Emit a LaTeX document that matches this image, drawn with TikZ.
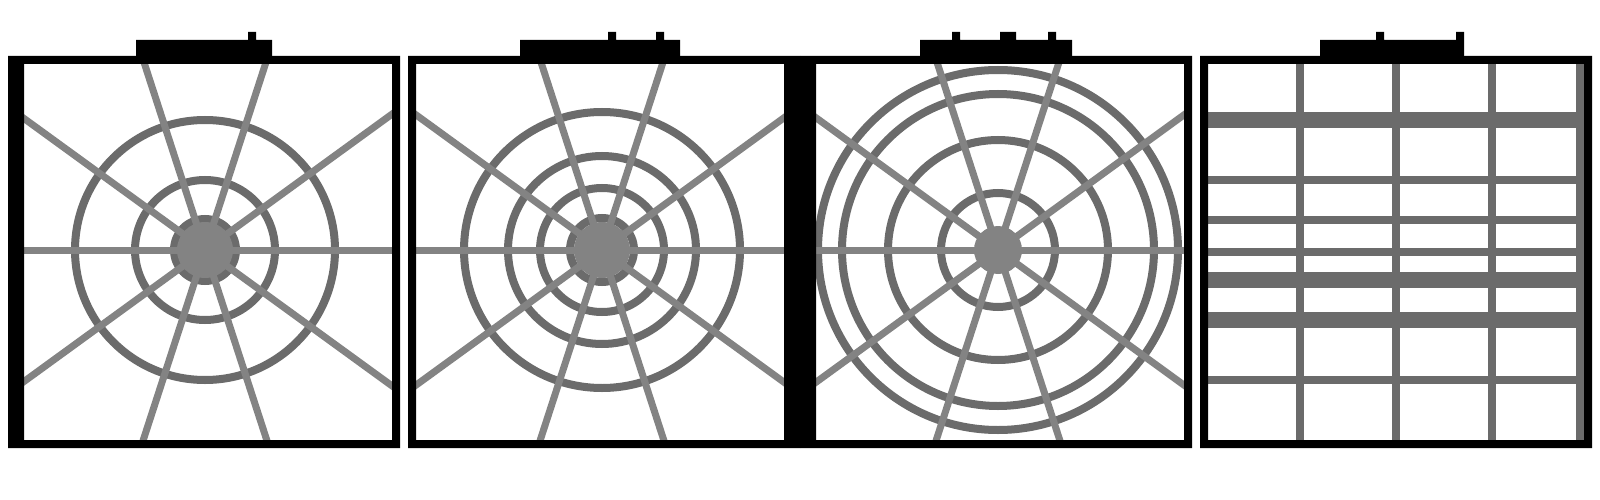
\documentclass[tikz,border=0pt]{standalone}
\definecolor{ringc}{HTML}{6B6B6B}
\definecolor{spokec}{HTML}{838383}
\tikzset{
  ring/.style={draw=ringc,line width=8pt},
  spoke/.style={draw=spokec,line width=7pt},
  blob/.style={fill=spokec},
  frameblk/.style={fill=black,even odd rule},
  titlebar/.style={fill=black},
  gridline/.style={fill=ringc}
}
\newcommand\webpanel[5]{%
  \begin{scope}
    \clip (#2,64) rectangle (#3,440);
    \begin{scope}[shift={(#1,250)}]
      \foreach \r in {#4} {
        \draw[ring] (0,0) circle (\r);
      }
      \foreach \a in {0,36,72,108,144} {
        \draw[spoke] (\a:320) -- (\a+180:320);
      }
      \fill[blob] (0,0) circle (#5);
    \end{scope}
  \end{scope}
}
\begin{document}
\begin{tikzpicture}[x=1pt,y=-1pt]
\useasboundingbox[fill=white] (0,0) rectangle (1600,500);

% panel contents
\webpanel{205}{24}{392}{31,70,130}{28}
\webpanel{602}{416}{784}{32,62,94,138}{28}
\webpanel{998}{816}{1184}{57,110,156,180}{24}

% panel 4 grid
\begin{scope}
  \foreach \ya/\yb in {112/128,176/184,216/224,248/256,272/288,312/328,376/384}
    {\fill[gridline] (1208,\ya) rectangle (1584,\yb);}
  \foreach \xa in {1296,1392,1488,1576}
    {\fill[gridline] (\xa,64) rectangle (\xa+8,440);}
\end{scope}

% frames
\fill[frameblk] (8,56) rectangle (400,448) (24,64) rectangle (392,440);
\fill[frameblk] (408,56) rectangle (800,448) (416,64) rectangle (784,440);
\fill[frameblk] (800,56) rectangle (1192,448) (816,64) rectangle (1184,440);
\fill[frameblk] (1200,56) rectangle (1592,448) (1208,64) rectangle (1584,440);

% title bars
\fill[titlebar] (136,40) rectangle (272,56) (248,32) rectangle (256,40);
\fill[titlebar] (520,40) rectangle (680,56) (608,32) rectangle (616,40) (656,32) rectangle (664,40);
\fill[titlebar] (920,40) rectangle (1072,56) (952,32) rectangle (960,40) (1000,32) rectangle (1016,40) (1048,32) rectangle (1056,40);
\fill[titlebar] (1320,40) rectangle (1464,56) (1376,32) rectangle (1384,40) (1456,32) rectangle (1464,40);
\end{tikzpicture}
\end{document}
